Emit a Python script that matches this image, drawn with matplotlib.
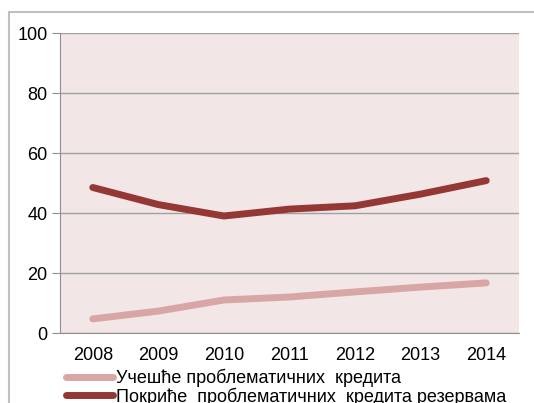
import matplotlib.pyplot as plt
from matplotlib.patches import Rectangle

plt.rcParams['font.family'] = ['Liberation Sans', 'DejaVu Sans']

years = ['2008', '2009', '2010', '2011', '2012', '2013', '2014']
share_npl = [4.7, 7.3, 11.0, 12.0, 13.7, 15.3, 16.7]
coverage_npl = [48.5, 42.8, 39.0, 41.3, 42.4, 46.3, 50.8]

labels = ['Учешће проблематичних  кредита',
          'Покриће  проблематичних  кредита резервама']

fig = plt.figure(figsize=(5.34, 4.03), dpi=100)
ax = fig.add_axes([60 / 534, 1 - 333 / 403, 459 / 534, 300 / 403])

# outer chart frame
fig.patches.append(Rectangle((9 / 534, -0.1), 1.2, 1 - 12 / 403 + 0.1,
                             transform=fig.transFigure, fill=False,
                             edgecolor='#c0c0c0', linewidth=1.5))

ax.set_facecolor('#f2e6e6')
x = range(len(years))
ax.plot(x, share_npl, color='#d9a6a6', linewidth=5, solid_capstyle='round',
        label=labels[0])
ax.plot(x, coverage_npl, color='#953735', linewidth=5, solid_capstyle='round',
        label=labels[1])

ax.set_xlim(-0.5, 6.5)
ax.set_ylim(0, 100)
ax.set_yticks(range(0, 101, 20))
ax.set_xticks(list(x))
ax.set_xticklabels(years)
ax.yaxis.grid(True, color='#a0a0a0', linewidth=1)
ax.set_axisbelow(True)

for side in ['top', 'right']:
    ax.spines[side].set_visible(False)
for side in ['left', 'bottom']:
    ax.spines[side].set_color('#909090')
ax.tick_params(axis='y', length=6, color='#909090', labelsize=13, pad=3)
ax.tick_params(axis='x', length=0, labelsize=13, pad=10)

ax.legend(loc='upper left', bbox_to_anchor=(66 / 534, 1 - 369 / 403),
          bbox_transform=fig.transFigure, frameon=False, fontsize=13,
          handlelength=2.6, handletextpad=0.15, labelspacing=0.0,
          borderpad=0, borderaxespad=0)

fig.savefig('out.png', dpi=100, facecolor='white')
